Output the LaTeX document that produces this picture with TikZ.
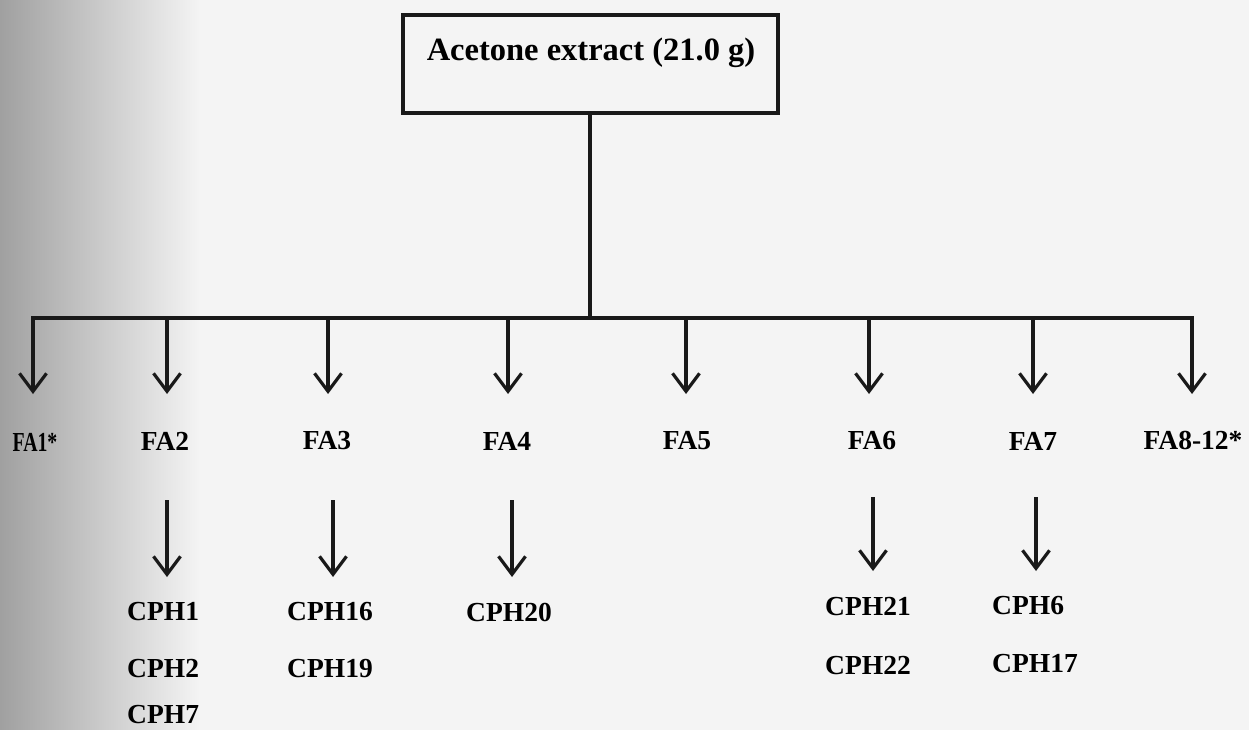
\documentclass[tikz,border=0pt]{standalone}
\usepackage{fontspec}
\setmainfont{Liberation Serif}
\usetikzlibrary{arrows.meta}
\definecolor{paper}{RGB}{244,244,244}
\definecolor{edge}{RGB}{160,160,160}
\tikzset{
  conn/.style={line width=3.2pt, draw=black!90},
  arr/.style={conn, -{Straight Barb[length=18pt, width=27pt]}},
  lbl/.style={font=\fontsize{27.5}{32}\selectfont\bfseries, inner sep=0pt},
  cph/.style={lbl, anchor=west},
  boxstyle/.style={draw=black!90, line width=3.4pt, minimum width=375pt, minimum height=98pt, inner sep=0pt}
}
\begin{document}
\begin{tikzpicture}[x=1pt,y=-1pt]
\useasboundingbox (0,0) rectangle (1249,730);
\fill[paper] (0,0) rectangle (1249,730);
\shade[left color=edge, right color=paper] (0,0) rectangle (200,730);
% top box
\node (box) [boxstyle] at (590.5,64) {};
\node (boxt) [font=\fontsize{32.5}{38}\selectfont\bfseries, inner sep=0pt] at (591,53) {Acetone extract (21.0 g)};
% trunk
\coordinate (j) at (590,318);
\draw[conn] (box.south -| j) -- (j);
% branch points on bar
\coordinate (b1) at (33,318);
\coordinate (b2) at (167,318);
\coordinate (b3) at (328,318);
\coordinate (b4) at (508,318);
\coordinate (b5) at (686,318);
\coordinate (b6) at (869,318);
\coordinate (b7) at (1033,318);
\coordinate (b8) at (1192,318);
\draw[conn, line join=miter] (b1 |- 0,360) -- (b1) -- (b8) -- (b8 |- 0,360);
% arrow tips
\foreach \i in {1,...,8} {
  \coordinate (t\i) at (b\i |- 0,394);
  \draw[arr] (b\i) -- (t\i);
}
% FA labels
\node (fa1) [lbl, xscale=0.72] at (35,442) {FA1*};
\node (fa2) [lbl] at (165,441) {FA2};
\node (fa3) [lbl] at (327,441) {FA3};
\node (fa4) [lbl] at (507,441) {FA4};
\node (fa5) [lbl] at (687,441) {FA5};
\node (fa6) [lbl] at (872,441) {FA6};
\node (fa7) [lbl] at (1033,441) {FA7};
\node (fa8) [lbl] at (1193,440) {FA8-12*};
% second level arrows
\coordinate (s2) at (167,500);
\coordinate (s3) at (333,500);
\coordinate (s4) at (512,500);
\coordinate (s6) at (873,497);
\coordinate (s7) at (1036,497);
\coordinate (e2) at (167,577);
\coordinate (e3) at (333,577);
\coordinate (e4) at (512,577);
\coordinate (e6) at (873,571);
\coordinate (e7) at (1036,571);
\draw[arr] (s2) -- (e2);
\draw[arr] (s3) -- (e3);
\draw[arr] (s4) -- (e4);
\draw[arr] (s6) -- (e6);
\draw[arr] (s7) -- (e7);
% compounds
\node (cph1) [cph] at (127,612) {CPH1};
\node (cph2) [cph] at (127,669) {CPH2};
\node (cph7) [cph] at (127,715) {CPH7};
\node (cph16) [cph] at (287,612) {CPH16};
\node (cph19) [cph] at (287,669) {CPH19};
\node (cph20) [cph] at (466,612) {CPH20};
\node (cph21) [cph] at (825,607) {CPH21};
\node (cph22) [cph] at (825,666) {CPH22};
\node (cph6) [cph] at (992,606) {CPH6};
\node (cph17) [cph] at (992,664) {CPH17};
\end{tikzpicture}
\end{document}
